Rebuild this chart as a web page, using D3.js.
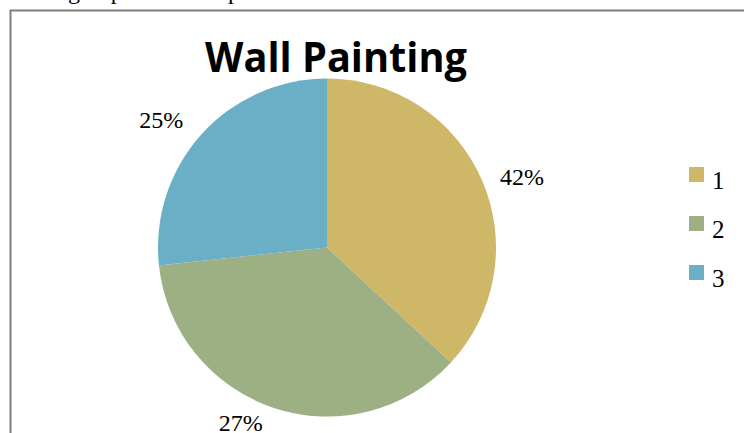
<!DOCTYPE html>
<html>
<head>
<meta charset="utf-8">
<script src="https://cdn.jsdelivr.net/npm/d3@7"></script>
<style>
  html, body { margin: 0; padding: 0; background: #fff; overflow: hidden; }
  #chart { width: 744px; height: 433px; }
</style>
</head>
<body>
<div id="chart"></div>
<script>
//Datos del gráfico
const categories = ['1', '2', '3'];
const values = [36.9, 36.4, 26.7];
const sliceLabels = ['42%', '27%', '25%'];
const title = 'Wall Painting';

//Colores fijos
const COLORS = ['#CEB766', '#9DB084', '#6AAFC6'];

let width = 744, height = 433;

let svg = d3.select('#chart')
    .append('svg')
    .attr('width', width)
    .attr('height', height);

//Texto del documento cortado arriba
let docText = svg.append('text')
    .attr('y', -1)
    .style('font-family', '"Liberation Serif", "Times New Roman", serif')
    .style('font-size', '24px')
    .attr('fill', '#000');
docText.append('tspan').attr('x', 0).text('Painting');
docText.append('tspan').attr('x', 92).text('top of the');
docText.append('tspan').attr('x', 228).text('pie');

//Marco
svg.append('path')
    .attr('d', 'M10.5,' + height + 'V10.5H' + width)
    .attr('fill', 'none')
    .attr('stroke', '#7f7f7f')
    .attr('stroke-width', 2);

//Título
svg.append('text')
    .attr('x', 205)
    .attr('y', 72)
    .attr('textLength', 262)
    .attr('lengthAdjust', 'spacingAndGlyphs')
    .style('font-family', '"Open Sans", sans-serif')
    .style('font-weight', 'bold')
    .style('font-size', '42px')
    .text(title);

//Tarta
let cx = 327, cy = 247.5, radius = 169;

let pie = d3.pie().sort(null).value(function(d) { return d; });
let arc = d3.arc().innerRadius(0).outerRadius(radius);

let g = svg.append('g').attr('transform', 'translate(' + cx + ',' + cy + ')');

g.selectAll('.slice')
    .data(pie(values))
    .enter()
    .append('path')
    .attr('class', 'slice')
    .attr('d', arc)
    .attr('fill', function(d, i) { return COLORS[i]; });

//Etiquetas de porcentaje
let labelArc = d3.arc().innerRadius(radius + 35).outerRadius(radius + 35);
let labelOffsets = [[8, 14], [-22, -16], [-14, 11]];

g.selectAll('.pct')
    .data(pie(values))
    .enter()
    .append('text')
    .attr('class', 'pct')
    .attr('x', function(d, i) { return labelArc.centroid(d)[0] + labelOffsets[i][0]; })
    .attr('y', function(d, i) { return labelArc.centroid(d)[1] + labelOffsets[i][1]; })
    .attr('text-anchor', 'middle')
    .attr('dominant-baseline', 'middle')
    .style('font-family', '"Liberation Serif", "Times New Roman", serif')
    .style('font-size', '24px')
    .text(function(d, i) { return sliceLabels[i]; });

//Leyenda
let ly = d3.scalePoint().domain(categories).range([174.5, 272.5]);

let legend = svg.append('g');

legend.selectAll('rect')
    .data(categories)
    .enter()
    .append('rect')
    .attr('x', 689)
    .attr('y', function(d) { return ly(d) - 7.5; })
    .attr('width', 15)
    .attr('height', 15)
    .attr('fill', function(d, i) { return COLORS[i]; });

legend.selectAll('text')
    .data(categories)
    .enter()
    .append('text')
    .attr('x', 712)
    .attr('y', function(d) { return ly(d) + 14; })
    .style('font-family', '"Liberation Serif", "Times New Roman", serif')
    .style('font-size', '25px')
    .text(function(d) { return d; });
</script>
</body>
</html>
